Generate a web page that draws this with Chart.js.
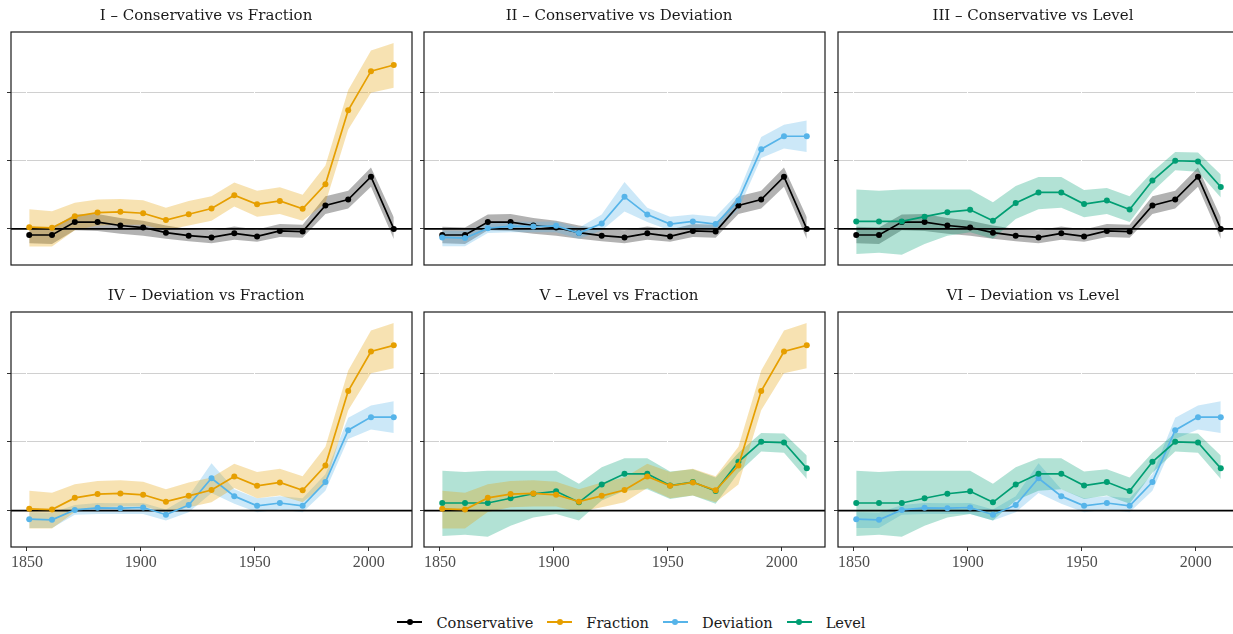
<!DOCTYPE html>
<html>
<head>
<meta charset="utf-8">
<script src="https://cdn.jsdelivr.net/npm/chart.js@4.4.0/dist/chart.umd.min.js"></script>
<style>
  html, body { margin: 0; padding: 0; background: #fff; }
  body { width: 1233px; height: 634px; overflow: hidden; position: relative; }
  .panel { position: absolute; }
  .panel canvas { display: block; }
  #legend { position: absolute; left: 0; width: 1263px; top: 610px; height: 24px;
    display: flex; justify-content: center; align-items: center;
    font-family: 'DejaVu Serif'; font-size: 14.6px; color: #1a1a1a; }
  .item { display: flex; align-items: center; margin: 0 7px; }
  .sym { position: relative; width: 25px; height: 10px; margin-right: 14px; }
  .sym .ln { position: absolute; left: 0; right: 0; top: 4px; height: 2px; }
  .sym .dot { position: absolute; left: 9.5px; top: 2px; width: 6px; height: 6px; border-radius: 50%; }
</style>
</head>
<body>
<div id="legend"></div>
<script>
// data
const years = [1851, 1861, 1871, 1881, 1891, 1901, 1911, 1921, 1931, 1941, 1951, 1961, 1971, 1981, 1991, 2001, 2011];

const conservative   = [-0.09, -0.09, 0.10, 0.10, 0.05, 0.02, -0.055, -0.10, -0.125, -0.065, -0.11, -0.03, -0.04, 0.345, 0.43, 0.765, 0.0];
const conservativeLo = [-0.21, -0.22, -0.02, -0.03, -0.07, -0.10, -0.145, -0.18, -0.21, -0.16, -0.19, -0.12, -0.13, 0.22, 0.30, 0.62, -0.15];
const conservativeHi = [0.03, 0.02, 0.21, 0.22, 0.16, 0.12, 0.05, 0.0, -0.02, 0.035, -0.01, 0.07, 0.06, 0.48, 0.56, 0.90, 0.17];

const fraction   = [0.025, 0.015, 0.185, 0.24, 0.25, 0.23, 0.13, 0.215, 0.30, 0.495, 0.36, 0.41, 0.295, 0.655, 1.74, 2.315, 2.405];
const fractionLo = [-0.26, -0.26, -0.02, 0.05, 0.06, 0.06, -0.02, 0.05, 0.12, 0.33, 0.18, 0.22, 0.12, 0.38, 1.46, 2.0, 2.07];
const fractionHi = [0.29, 0.26, 0.385, 0.43, 0.44, 0.42, 0.31, 0.41, 0.48, 0.68, 0.56, 0.61, 0.50, 0.93, 2.04, 2.62, 2.73];

const deviation   = [-0.125, -0.135, 0.01, 0.04, 0.035, 0.045, -0.06, 0.08, 0.47, 0.21, 0.07, 0.11, 0.07, 0.415, 1.17, 1.36, 1.36];
const deviationLo = [-0.255, -0.255, -0.06, -0.05, -0.05, -0.05, -0.145, -0.025, 0.255, 0.10, -0.025, 0.015, -0.025, 0.29, 1.04, 1.18, 1.13];
const deviationHi = [-0.025, -0.03, 0.08, 0.11, 0.105, 0.11, 0.015, 0.21, 0.69, 0.31, 0.18, 0.21, 0.18, 0.53, 1.35, 1.53, 1.59];

const level   = [0.11, 0.11, 0.11, 0.18, 0.245, 0.28, 0.12, 0.38, 0.535, 0.535, 0.365, 0.415, 0.285, 0.71, 1.0, 0.99, 0.615];
const levelLo = [-0.37, -0.35, -0.38, -0.22, -0.10, -0.05, -0.145, 0.145, 0.29, 0.31, 0.17, 0.22, 0.10, 0.55, 0.86, 0.84, 0.46];
const levelHi = [0.58, 0.56, 0.58, 0.58, 0.58, 0.58, 0.39, 0.63, 0.76, 0.76, 0.57, 0.60, 0.48, 0.84, 1.13, 1.12, 0.80];

const seriesNames = ['Conservative', 'Fraction', 'Deviation', 'Level'];
const panelTitles = [
    'I – Conservative vs Fraction',
    'II – Conservative vs Deviation',
    'III – Conservative vs Level',
    'IV – Deviation vs Fraction',
    'V – Level vs Fraction',
    'VI – Deviation vs Level'
];
const panelPairs = [[0, 1], [0, 2], [0, 3], [2, 1], [3, 1], [2, 3]];
const xTicks = [1850, 1900, 1950, 2000];
const yTicks = [0, 1, 2];

const values = [conservative, fraction, deviation, level];
const lows = [conservativeLo, fractionLo, deviationLo, levelLo];
const highs = [conservativeHi, fractionHi, deviationHi, levelHi];

const lineColors = ['#000000', '#E69F00', '#56B4E9', '#009E73'];
const bandColors = ['rgba(0,0,0,0.3)', 'rgba(230,159,0,0.3)', 'rgba(86,180,233,0.3)', 'rgba(0,158,115,0.3)'];

// layout of the plot areas (third column runs off the right edge, as in the original)
const colLeft = [11, 424, 838];
const rowTop = [32, 312];
const plotW = 401;
const plotH = 235;
const axisW = 11;
const titleH = 32;

function toPoints(arr) {
    return arr.map((v, i) => ({ x: years[i], y: v }));
}

// zero line under the series lines, frame round the panel
const panelFrame = {
    id: 'panelFrame',
    beforeDatasetDraw(chart, args) {
        if (!chart.data.datasets[args.index].zeroBelow) return;
        const { ctx, chartArea } = chart;
        const y = chart.scales.y.getPixelForValue(0);
        ctx.save();
        ctx.strokeStyle = '#000';
        ctx.lineWidth = 1.8;
        ctx.beginPath();
        ctx.moveTo(chartArea.left, y);
        ctx.lineTo(chartArea.right, y);
        ctx.stroke();
        ctx.restore();
    },
    afterDraw(chart) {
        const { ctx, chartArea } = chart;
        ctx.save();
        ctx.strokeStyle = '#1a1a1a';
        ctx.lineWidth = 1.2;
        ctx.strokeRect(chartArea.left, chartArea.top, chartArea.right - chartArea.left, chartArea.bottom - chartArea.top);
        ctx.restore();
    }
};

function makeDatasets(pair) {
    const ds = [];
    pair.forEach((s, k) => {
        const bandOrder = 4 - k;
        ds.push({ data: toPoints(lows[s]), borderWidth: 0, pointRadius: 0, fill: false, order: bandOrder });
        ds.push({ data: toPoints(highs[s]), borderWidth: 0, pointRadius: 0, fill: '-1', backgroundColor: bandColors[s], order: bandOrder });
    });
    pair.forEach((s, k) => {
        ds.push({
            data: toPoints(values[s]),
            borderColor: lineColors[s],
            backgroundColor: lineColors[s],
            borderWidth: 1.7,
            pointRadius: 3,
            pointBorderWidth: 0,
            fill: false,
            order: 2 - k,
            zeroBelow: k === 0
        });
    });
    return ds;
}

panelTitles.forEach((title, p) => {
    const row = Math.floor(p / 3);
    const col = p % 3;
    const bottomH = row === 1 ? 30 : 2;
    const w = axisW + plotW + axisW;
    const h = titleH + plotH + bottomH;
    const div = document.createElement('div');
    div.className = 'panel';
    div.style.left = (colLeft[col] - axisW) + 'px';
    div.style.top = (rowTop[row] - titleH) + 'px';
    div.style.width = w + 'px';
    div.style.height = h + 'px';
    const canvas = document.createElement('canvas');
    canvas.width = w;
    canvas.height = h;
    canvas.style.width = w + 'px';
    canvas.style.height = h + 'px';
    div.appendChild(canvas);
    document.body.appendChild(div);

    new Chart(canvas, {
        type: 'line',
        data: { datasets: makeDatasets(panelPairs[p]) },
        options: {
            responsive: false,
            devicePixelRatio: 1,
            animation: false,
            events: [],
            layout: { padding: { left: 0, right: axisW, top: 0, bottom: row === 1 ? 0 : 2 } },
            elements: { line: { tension: 0 } },
            plugins: {
                legend: { display: false },
                tooltip: { enabled: false },
                title: {
                    display: true,
                    text: title,
                    color: '#1a1a1a',
                    font: { family: 'DejaVu Serif', size: 15, weight: 'normal' },
                    padding: { top: 7, bottom: 7 }
                }
            },
            scales: {
                y: {
                    type: 'linear',
                    min: -0.53,
                    max: 2.89,
                    afterBuildTicks: scale => { scale.ticks = yTicks.map(v => ({ value: v })); },
                    afterFit: scale => { scale.width = axisW; },
                    grid: { color: '#d0d0d0', lineWidth: 1, tickLength: 4, tickColor: '#333', z: -2 },
                    border: { display: false },
                    ticks: { display: false }
                },
                x: {
                    type: 'linear',
                    min: 1843,
                    max: 2019,
                    afterBuildTicks: scale => { scale.ticks = xTicks.map(v => ({ value: v })); },
                    afterFit: scale => { scale.height = row === 1 ? 30 : 0; },
                    grid: { color: '#ffffff', lineWidth: 1, drawTicks: row === 1, tickLength: 4, tickColor: '#333', z: -1 },
                    border: { display: false },
                    ticks: {
                        display: row === 1,
                        autoSkip: false,
                        maxRotation: 0,
                        padding: 2,
                        color: '#4d4d4d',
                        font: { family: 'Liberation Serif', size: 16 },
                        callback: v => String(v)
                    }
                }
            }
        },
        plugins: [panelFrame]
    });
});

// legend
const legend = document.getElementById('legend');
seriesNames.forEach((name, i) => {
    const item = document.createElement('div');
    item.className = 'item';
    item.innerHTML = '<span class="sym"><span class="ln" style="background:' + lineColors[i] + '"></span>' +
        '<span class="dot" style="background:' + lineColors[i] + '"></span></span><span>' + name + '</span>';
    legend.appendChild(item);
});
</script>
</body>
</html>
